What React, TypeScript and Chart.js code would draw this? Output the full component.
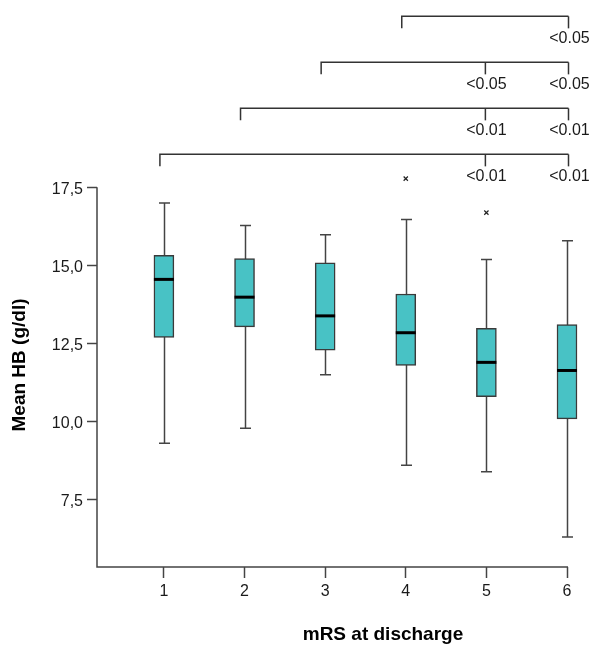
import React, { useEffect, useRef } from "react";
import { Chart, registerables } from "chart.js";

Chart.register(...registerables);

// ---- data ----
const categories = [1, 2, 3, 4, 5, 6];
const whiskerLow = [9.3, 9.78, 11.49, 8.59, 8.38, 6.29];
const q1 = [12.69, 13.03, 12.28, 11.79, 10.79, 10.08];
const median = [14.55, 13.98, 13.38, 12.84, 11.89, 11.63];
const q3 = [15.32, 15.22, 15.08, 14.08, 12.98, 13.1];
const whiskerHigh = [17.0, 16.28, 15.98, 16.47, 15.19, 15.79];
const outlierGroups = [4, 5];
const outlierValues = [17.78, 16.69];
const yTicks = [7.5, 10, 12.5, 15, 17.5];
const xTitle = "mRS at discharge";
const yTitle = "Mean HB (g/dl)";
// significance brackets: start group, groups with p-value marks, labels
const bracketFrom = [4, 3, 2, 1];
const bracketMarks = [[6], [5, 6], [5, 6], [5, 6]];
const bracketLabels = [["<0.05"], ["<0.05", "<0.05"], ["<0.01", "<0.01"], ["<0.01", "<0.01"]];

const FONT = "'Liberation Sans', Arial, Helvetica, sans-serif";
const INK = "#1a1a1a";
const LINE = "#444444";

const extrasPlugin = {
  id: "boxExtras",
  beforeDatasetsDraw(chart: any) {
    const { ctx, scales } = chart;
    const xs = scales.x;
    const ys = scales.y;
    ctx.save();
    ctx.strokeStyle = LINE;
    ctx.lineWidth = 1.5;
    categories.forEach((c, i) => {
      const x = Math.round(xs.getPixelForValue(c)) + 0.5;
      const yl = ys.getPixelForValue(whiskerLow[i]);
      const yh = ys.getPixelForValue(whiskerHigh[i]);
      ctx.beginPath();
      ctx.moveTo(x, yl);
      ctx.lineTo(x, yh);
      ctx.stroke();
      ctx.beginPath();
      ctx.moveTo(x - 5.5, yl);
      ctx.lineTo(x + 5.5, yl);
      ctx.moveTo(x - 5.5, yh);
      ctx.lineTo(x + 5.5, yh);
      ctx.stroke();
    });
    ctx.restore();
  },
  afterDatasetsDraw(chart: any) {
    const { ctx, scales, chartArea } = chart;
    const xs = scales.x;
    const ys = scales.y;
    ctx.save();
    // medians
    ctx.strokeStyle = "#000";
    ctx.lineWidth = 3;
    categories.forEach((c, i) => {
      const x = xs.getPixelForValue(c);
      const y = ys.getPixelForValue(median[i]);
      ctx.beginPath();
      ctx.moveTo(x - 10, y);
      ctx.lineTo(x + 10, y);
      ctx.stroke();
    });
    // axis lines
    ctx.strokeStyle = LINE;
    ctx.lineWidth = 1.5;
    const top = ys.getPixelForValue(yTicks[yTicks.length - 1]);
    ctx.beginPath();
    ctx.moveTo(chartArea.left, top);
    ctx.lineTo(chartArea.left, chartArea.bottom);
    ctx.lineTo(chartArea.right + 1, chartArea.bottom);
    ctx.stroke();
    // brackets
    ctx.strokeStyle = "#333";
    ctx.lineWidth = 1.5;
    ctx.fillStyle = INK;
    ctx.font = `16px ${FONT}`;
    ctx.textAlign = "center";
    ctx.textBaseline = "middle";
    bracketFrom.forEach((from, i) => {
      const level = top - 171 + i * 46;
      const x0 = xs.getPixelForValue(from) - 4;
      const marks = bracketMarks[i];
      const xEnd = xs.getPixelForValue(marks[marks.length - 1]) + 1.5;
      ctx.beginPath();
      ctx.moveTo(x0, level + 12);
      ctx.lineTo(x0, level);
      ctx.lineTo(xEnd, level);
      ctx.stroke();
      marks.forEach((m, j) => {
        const xm = j === marks.length - 1 ? xEnd : xs.getPixelForValue(m) - 1;
        ctx.beginPath();
        ctx.moveTo(xm, level);
        ctx.lineTo(xm, level + 12);
        ctx.stroke();
        ctx.fillText(bracketLabels[i][j], xm + 1, level + 22);
      });
    });
    // axis titles
    ctx.font = `bold 19px ${FONT}`;
    ctx.fillStyle = "#000";
    ctx.textAlign = "center";
    ctx.textBaseline = "middle";
    ctx.fillText(xTitle, 383, 635);
    ctx.translate(20, 365);
    ctx.rotate(-Math.PI / 2);
    ctx.fillText(yTitle, 0, 0);
    ctx.restore();
  },
};

export default function App() {
  const ref = useRef<HTMLCanvasElement>(null);
  useEffect(() => {
    document.body.style.margin = "0";
    const canvas = ref.current;
    if (!canvas) return;
    const chart = new Chart(canvas, {
      type: "bar",
      data: {
        datasets: [
          {
            type: "bar",
            data: categories.map((c, i) => ({ x: c, y: [q1[i], q3[i]] })) as any,
            backgroundColor: "#48C2C5",
            borderColor: "#3a3a3a",
            borderWidth: 1.5,
            borderSkipped: false,
            barThickness: 20,
            grouped: false,
            clip: false,
            order: 2,
          } as any,
          {
            type: "scatter",
            data: outlierGroups.map((g, i) => ({ x: g, y: outlierValues[i] })),
            pointStyle: "crossRot",
            pointRadius: 3,
            borderColor: "#222",
            backgroundColor: "#222",
            borderWidth: 1.2,
            clip: false,
            order: 1,
          } as any,
        ],
      },
      options: {
        animation: false,
        responsive: false,
        layout: { padding: { left: 0, right: 33, top: 0, bottom: 0 } },
        plugins: { legend: { display: false }, tooltip: { enabled: false } },
        scales: {
          x: {
            type: "linear",
            min: 0.17,
            max: 6,
            offset: false,
            afterBuildTicks: (s: any) => {
              s.ticks = categories.map((v) => ({ value: v }));
            },
            afterFit: (s: any) => {
              s.height = 85;
            },
            grid: {
              offset: false,
              drawOnChartArea: false,
              drawTicks: true,
              tickLength: 11,
              tickColor: LINE,
              tickWidth: 1.5,
            },
            border: { display: false },
            ticks: {
              padding: 4,
              color: INK,
              font: { family: FONT, size: 16 },
              callback: (v: any) => String(v),
            },
          },
          y: {
            type: "linear",
            min: 5.33,
            max: 23.07,
            afterBuildTicks: (s: any) => {
              s.ticks = yTicks.map((v) => ({ value: v }));
            },
            afterFit: (s: any) => {
              s.width = 97;
            },
            grid: {
              drawOnChartArea: false,
              drawTicks: true,
              tickLength: 10,
              tickColor: LINE,
              tickWidth: 1.5,
            },
            border: { display: false },
            ticks: {
              padding: 4,
              labelOffset: 2,
              color: INK,
              font: { family: FONT, size: 16 },
              callback: (v: any) => Number(v).toFixed(1).replace(".", ","),
            },
          },
        },
      },
      plugins: [extrasPlugin],
    });
    return () => chart.destroy();
  }, []);
  return (
    <div style={{ width: 600, height: 652 }}>
      <canvas ref={ref} width={600} height={652} style={{ display: "block" }} />
    </div>
  );
}
